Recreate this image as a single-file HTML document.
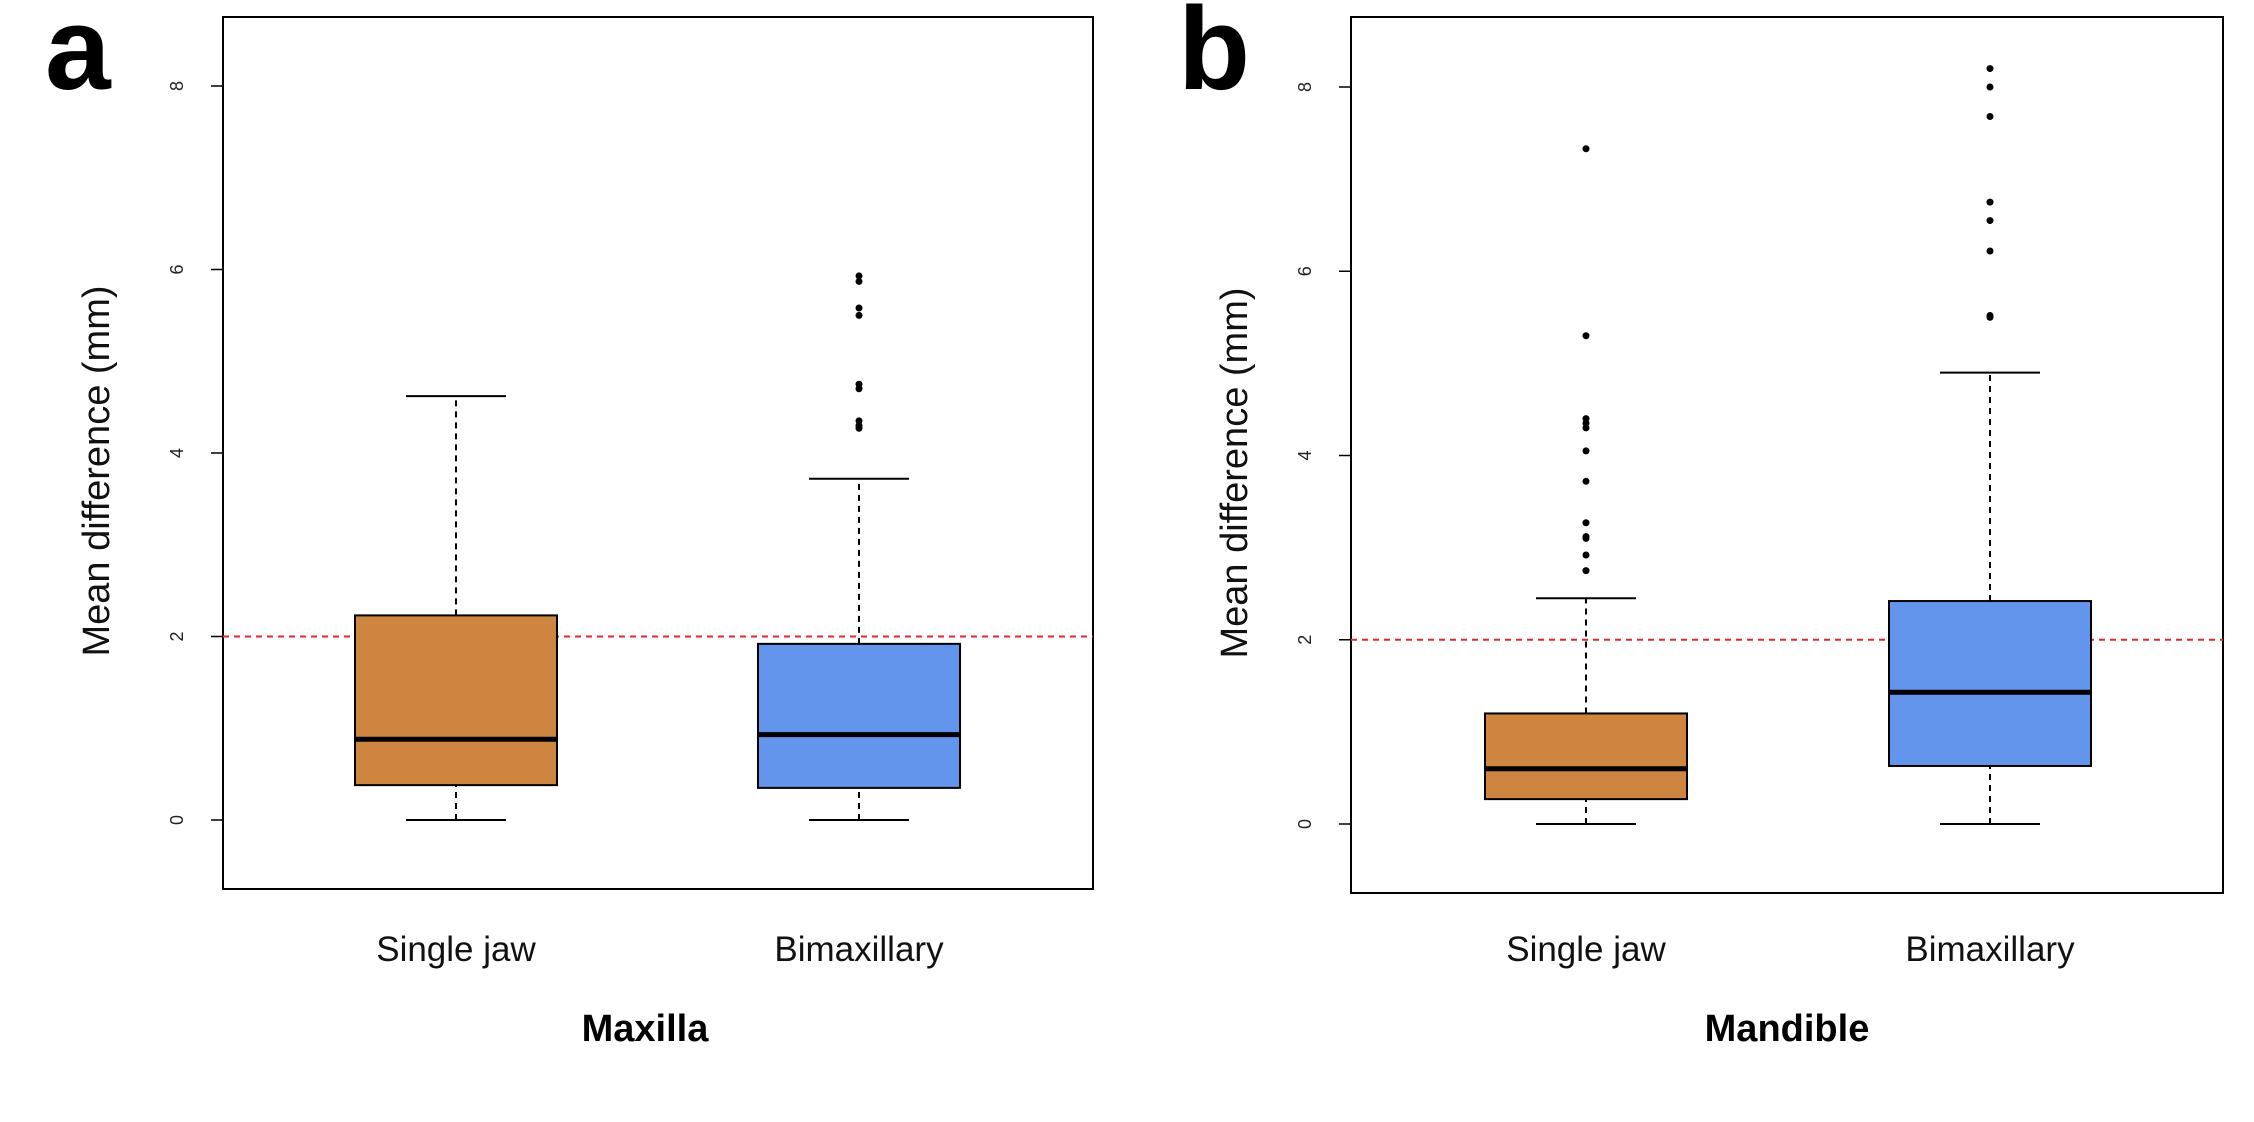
<!DOCTYPE html>
<html><head><meta charset="utf-8"><style>
body{margin:0;background:#fff;}
svg text{font-family:"Liberation Sans",sans-serif;}
</style></head><body>
<svg id="chart" width="2254" height="1117" viewBox="0 0 2254 1117" xmlns="http://www.w3.org/2000/svg"></svg>
<script>
const categories = ["Single jaw", "Bimaxillary"];
const panelTitles = ["Maxilla", "Mandible"];
const panelLetters = ["a", "b"];
const yTicks = [0, 2, 4, 6, 8];
const threshold = 2;
// [low, q1, median, q3, high] per category
const maxillaStats = [[0, 0.38, 0.88, 2.23, 4.62], [0, 0.35, 0.93, 1.92, 3.72]];
const mandibleStats = [[0, 0.27, 0.6, 1.2, 2.45], [0, 0.63, 1.43, 2.42, 4.9]];
const maxillaOutliers = [[], [5.93, 5.87, 5.58, 5.5, 4.75, 4.7, 4.35, 4.3, 4.27]];
const mandibleOutliers = [[7.33, 5.3, 4.4, 4.35, 4.3, 4.05, 3.72, 3.27, 3.12, 3.1, 2.92, 2.75],
                          [8.2, 8.0, 7.68, 6.75, 6.55, 6.22, 5.52, 5.5]];
const colors = ["#CD853F", "#6495ED"];

const svg = document.getElementById('chart');
const NS = "http://www.w3.org/2000/svg";
function mk(tag, attrs, parent) {
  const e = document.createElementNS(NS, tag);
  for (const k in attrs) e.setAttribute(k, attrs[k]);
  (parent || svg).appendChild(e);
  return e;
}
const panels = [
  {x0: 223, x1: 1093, top: 17, bottom: 889, y0: 820, y8: 86, centers: [456, 859], halfW: 101, capW: 50, ylabX: 97, letterX: 45, titleX: 645, stats: maxillaStats, out: maxillaOutliers},
  {x0: 1351, x1: 2223, top: 17, bottom: 893, y0: 824, y8: 87, centers: [1586, 1990], halfW: 101, capW: 50, ylabX: 1235, letterX: 1178, titleX: 1787, stats: mandibleStats, out: mandibleOutliers}
];
panels.forEach((p, pi) => {
  const g = mk('g', {});
  
  
  const y = v => p.y0 + (p.y8 - p.y0) * v / 8;
  const frame = mk('rect', {x: p.x0, y: p.top, width: p.x1 - p.x0, height: p.bottom - p.top, fill: 'none', stroke: '#000', 'stroke-width': 2}, g);
  
  
  yTicks.forEach(t => {
    const tk = mk('line', {x1: p.x0 - 12, x2: p.x0, y1: y(t), y2: y(t), stroke: '#000', 'stroke-width': 1.5}, g);
    
    
    const tl = mk('text', {x: 0, y: 0, transform: `translate(${p.x0 - 45},${y(t)}) rotate(-90)`, 'text-anchor': 'middle', 'dominant-baseline': 'middle', 'font-size': 18, fill: '#222'}, g);
    tl.textContent = t;
    
    
  });
  const thr = mk('line', {x1: p.x0, x2: p.x1, y1: y(threshold), y2: y(threshold), stroke: '#e8262a', 'stroke-width': 2, 'stroke-dasharray': '6,5'}, g);
  
  
  categories.forEach((c, ci) => {
    const s = p.stats[ci], cx = p.centers[ci];
    const w1 = mk('line', {x1: cx, x2: cx, y1: y(s[3]), y2: y(s[4]), stroke: '#000', 'stroke-width': 2, 'stroke-dasharray': '6,5'}, g);
    
    
    const w2 = mk('line', {x1: cx, x2: cx, y1: y(s[0]), y2: y(s[1]), stroke: '#000', 'stroke-width': 2, 'stroke-dasharray': '6,5'}, g);
    
    
    [s[0], s[4]].forEach(v => {
      const cap = mk('line', {x1: cx - p.capW, x2: cx + p.capW, y1: y(v), y2: y(v), stroke: '#000', 'stroke-width': 2}, g);
      
      
    });
    const box = mk('rect', {x: cx - p.halfW, y: y(s[3]), width: 2 * p.halfW, height: y(s[1]) - y(s[3]), fill: colors[ci], stroke: '#000', 'stroke-width': 2}, g);
    
    
    const med = mk('line', {x1: cx - p.halfW, x2: cx + p.halfW, y1: y(s[2]), y2: y(s[2]), stroke: '#000', 'stroke-width': 5}, g);
    
    
    p.out[ci].forEach(v => {
      const o = mk('circle', {cx: cx, cy: y(v), r: 3.5, fill: '#000'}, g);
      
      
    });
    const cl = mk('text', {x: cx, y: 961, 'text-anchor': 'middle', 'font-size': 35, fill: '#111'}, g);
    cl.textContent = c;
    
    
  });
  const yl = mk('text', {x: 0, y: 0, transform: `translate(${p.ylabX + 12},${(p.top + p.bottom) / 2 + 18}) rotate(-90)`, 'text-anchor': 'middle', 'font-size': 38, fill: '#111'}, g);
  yl.textContent = 'Mean difference (mm)';
  
  
  const tt = mk('text', {x: p.titleX, y: 1041, 'text-anchor': 'middle', 'font-size': 38, 'font-weight': 'bold', fill: '#000'}, g);
  tt.textContent = panelTitles[pi];
  
  
  const lt = mk('text', {x: p.letterX, y: 89, 'font-size': 118, 'font-weight': 'bold', fill: '#000'}, g);
  lt.textContent = panelLetters[pi];
  
  
});
</script>
</body></html>
